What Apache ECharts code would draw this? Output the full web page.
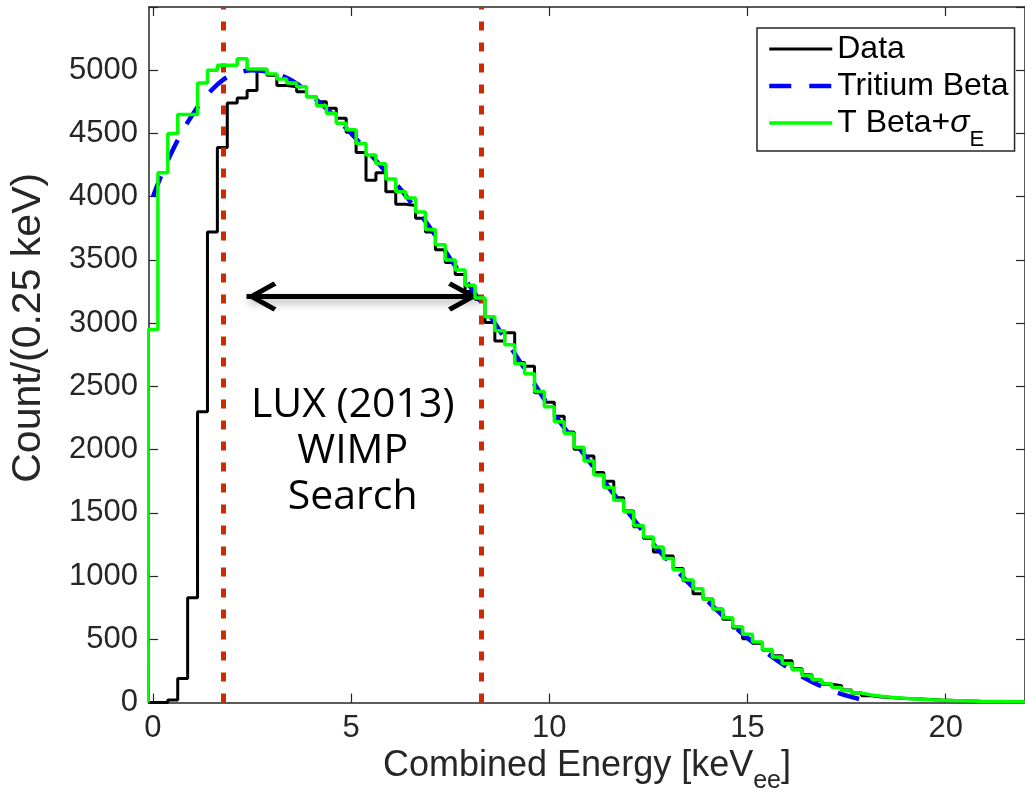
<!DOCTYPE html>
<html><head><meta charset="utf-8">
<script src="https://cdn.jsdelivr.net/npm/echarts@6/dist/echarts.min.js"></script>
<style>html,body{margin:0;padding:0;background:#fff}#c{width:1025px;height:799px}</style>
</head><body><div id="c"></div>
<script>
// ---- data ----
const binWidth = 0.25;
const binCenters = [0,0.25,0.5,0.75,1,1.25,1.5,1.75,2,2.25,2.5,2.75,3,3.25,3.5,3.75,4,4.25,4.5,4.75,5,5.25,5.5,5.75,6,6.25,6.5,6.75,7,7.25,7.5,7.75,8,8.25,8.5,8.75,9,9.25,9.5,9.75,10,10.25,10.5,10.75,11,11.25,11.5,11.75,12,12.25,12.5,12.75,13,13.25,13.5,13.75,14,14.25,14.5,14.75,15,15.25,15.5,15.75,16,16.25,16.5,16.75,17,17.25,17.5,17.75,18,18.25,18.5,18.75,19,19.25,19.5,19.75,20,20.25,20.5,20.75,21,21.25,21.5,21.75,22];
const dataCounts = [0,0,20,190,830,2300,3720,4390,4740,4780,4840,5000,
  4960,4880,4870,4830,4790,4750,4700,4620,4510,4350,4130,4190,
  4040,3940,3930,3830,3720,3580,3480,3385,3250,3190,3006,2860,
  2925,2690,2660,2450,2375,2265,2140,2004,1950,1820,1750,1620,
  1515,1390,1300,1190,1160,1060,963,860,820,740,660,590,
  505,470,415,370,331,268,220,175,145,134,100,75,
  55,45,40,35,30,28,24,20,18,14,12,10,
  9,8,7,6,5];
const smearedBeta = [2950,4190,4500,4650,4650,4900,5000,5040,5040,5090,5010,5010,
  4970,4930,4900,4870,4790,4720,4660,4580,4530,4420,4330,4260,
  4140,4040,3990,3880,3740,3620,3500,3420,3300,3200,3050,2940,
  2830,2680,2600,2460,2340,2220,2130,2020,1910,1800,1700,1600,
  1510,1400,1310,1230,1140,1050,970,900,820,740,670,600,
  540,480,420,360,310,260,215,180,150,120,95,75,
  60,50,42,36,30,26,22,19,16,14,12,10,
  9,8,7,6,5];
const betaEnergy = [0,0.25,0.5,0.75,1,1.25,1.5,1.75,2,2.25,2.5,2.75,3,3.5,4,4.5,5,5.5,6,6.5,7,7.5,8,8.5,9,9.5,10,10.5,11,11.5,12,12.5,13,13.5,14,14.5,15,15.5,16,16.5,17,17.5,18];
const betaCounts = [4000,4200,4370,4520,4650,4760,4850,4920,4965,4990,5000,4995,4980,
  4920,4800,4660,4500,4330,4150,3960,3750,3510,3290,3060,2820,2580,2340,2120,1910,1700,
  1500,1300,1120,950,800,650,510,390,280,185,110,55,15];
const seriesNames = ['Data', 'Tritium Beta', 'T Beta+σE'];
const xTickValues = [0, 5, 10, 15, 20];
const yTickValues = [0,500,1000,1500,2000,2500,3000,3500,4000,4500,5000];
const xRange = [-0.1, 22];
const yRange = [0, 5500];
const searchBounds = [1.78, 8.27];
const arrowEnds = [2.36, 8.2];
const arrowLevel = 3210;
const annotationAt = [5.04, 1990];
const annotationText = ['LUX (2013)', 'WIMP', 'Search'];

// ---- helpers ----
function stairs(centers, values) {
  const h = binWidth / 2;
  const pts = [[centers[0] - h, 0]];
  centers.forEach((c, i) => pts.push([c - h, values[i]]));
  pts.push([centers[centers.length - 1] + h, values[values.length - 1]]);
  return pts;
}
const AX = '#262626';
const FONT = 'Liberation Sans';
const chevron = 'path://M15,0 L30,27 L26,30 L15,10 L4,30 L0,27 Z M15,-30';

const axisCommon = {
  type: 'value',
  axisLine: { show: true, onZero: false, lineStyle: { color: AX, width: 1.5 } },
  splitLine: { show: false }
};

const chart = echarts.init(document.getElementById('c'), null, { renderer: 'canvas' });
chart.setOption({
  animation: false,
  backgroundColor: '#ffffff',
  grid: { left: 147, right: -4, top: 7, bottom: 95 },
  legend: {
    data: seriesNames,
    orient: 'vertical',
    left: 757, top: 28,
    padding: [5, 6, 0, 10],
    itemGap: 5,
    itemWidth: 63, itemHeight: 14,
    itemStyle: { opacity: 0 },
    lineStyle: { width: 'inherit', type: 'inherit' },
    borderColor: AX, borderWidth: 1.5,
    backgroundColor: '#fff',
    textStyle: {
      fontFamily: FONT, fontSize: 32, color: '#000',
      rich: {
        m: { fontFamily: FONT, fontSize: 32, color: '#000' },
        g: { fontFamily: FONT, fontSize: 32, color: '#000', fontStyle: 'italic' },
        e: { fontFamily: FONT, fontSize: 22, color: '#000', padding: [34, 0, 0, 0] }
      }
    },
    formatter: function (name) {
      if (name === seriesNames[2]) return '{m|T Beta+}{g|σ}{e|E}';
      return name;
    }
  },
  xAxis: [
    Object.assign({}, axisCommon, {
      min: xRange[0], max: xRange[1], position: 'bottom',
      axisTick: { inside: true, length: 9, customValues: xTickValues, lineStyle: { color: AX, width: 1.2 } },
      axisLabel: { customValues: xTickValues, margin: 10, fontSize: 31, color: AX, fontFamily: FONT },
      name: '{n|Combined Energy [keV}{s|ee}{n|]}',
      nameLocation: 'middle', nameGap: 36,
      nameTextStyle: {
        rich: {
          n: { fontFamily: FONT, fontSize: 36, color: AX },
          s: { fontFamily: FONT, fontSize: 25, color: AX, padding: [30, 0, 0, 0] }
        }
      }
    }),
    Object.assign({}, axisCommon, {
      min: xRange[0], max: xRange[1], position: 'top',
      axisTick: { inside: true, length: 9, customValues: xTickValues, lineStyle: { color: AX, width: 1.2 } },
      axisLabel: { show: false }
    })
  ],
  yAxis: [
    Object.assign({}, axisCommon, {
      min: yRange[0], max: yRange[1], interval: 500, position: 'left',
      axisTick: { inside: true, length: 9, lineStyle: { color: AX, width: 1.2 } },
      axisLabel: { customValues: yTickValues, margin: 11, fontSize: 31, color: AX, fontFamily: FONT,
        formatter: v => String(v) },
      name: 'Count/(0.25 keV)', nameLocation: 'middle', nameGap: 100,
      nameTextStyle: { fontFamily: FONT, fontSize: 41, color: AX, padding: [0, 0, 0, 54] }
    }),
    Object.assign({}, axisCommon, {
      min: yRange[0], max: yRange[1], interval: 500, position: 'right',
      axisTick: { inside: true, length: 9, lineStyle: { color: AX, width: 1.2 } },
      axisLabel: { show: false }
    })
  ],
  series: [
    {
      name: seriesNames[0], type: 'line', step: 'end', symbol: 'none', clip: false, z: 3,
      data: stairs(binCenters, dataCounts),
      lineStyle: { color: '#000000', width: 3 }, itemStyle: { color: '#000000' }
    },
    {
      name: seriesNames[1], type: 'line', smooth: 0.4, symbol: 'none', z: 4,
      data: betaEnergy.map((e, i) => [e, betaCounts[i]]),
      lineStyle: { color: '#0000ff', width: 4.5, type: [22, 18] }, itemStyle: { color: '#0000ff' }
    },
    {
      name: seriesNames[2], type: 'line', step: 'end', symbol: 'none', clip: false, z: 5,
      data: stairs(binCenters, smearedBeta),
      lineStyle: { color: '#00ff00', width: 3.5 }, itemStyle: { color: '#00ff00' }
    },
    {
      name: 'bounds', type: 'line', data: [], z: 6,
      markLine: {
        silent: true, symbol: ['none', 'none'], label: { show: false },
        lineStyle: { color: '#cc2a00', width: 5, type: [9, 12] },
        data: searchBounds.map(v => ({ xAxis: v }))
      }
    },
    {
      name: 'arrow', type: 'line', data: [], z: 7,
      markLine: {
        silent: true, symbol: [chevron, chevron], symbolSize: [30, 60], label: { show: false },
        lineStyle: { color: '#000', width: 5, type: 'solid',
          shadowBlur: 8, shadowColor: 'rgba(0,0,0,0.35)', shadowOffsetX: 2, shadowOffsetY: 4 },
        data: [[{ coord: [arrowEnds[0], arrowLevel] }, { coord: [arrowEnds[1], arrowLevel] }]]
      },
      markPoint: {
        silent: true, symbol: 'circle', symbolSize: 0,
        label: {
          show: true, position: 'inside', formatter: annotationText.join('\n'),
          fontFamily: 'Open Sans', fontSize: 41, lineHeight: 46, color: '#000'
        },
        data: [{ coord: annotationAt }]
      }
    }
  ]
});
</script>
</body></html>
